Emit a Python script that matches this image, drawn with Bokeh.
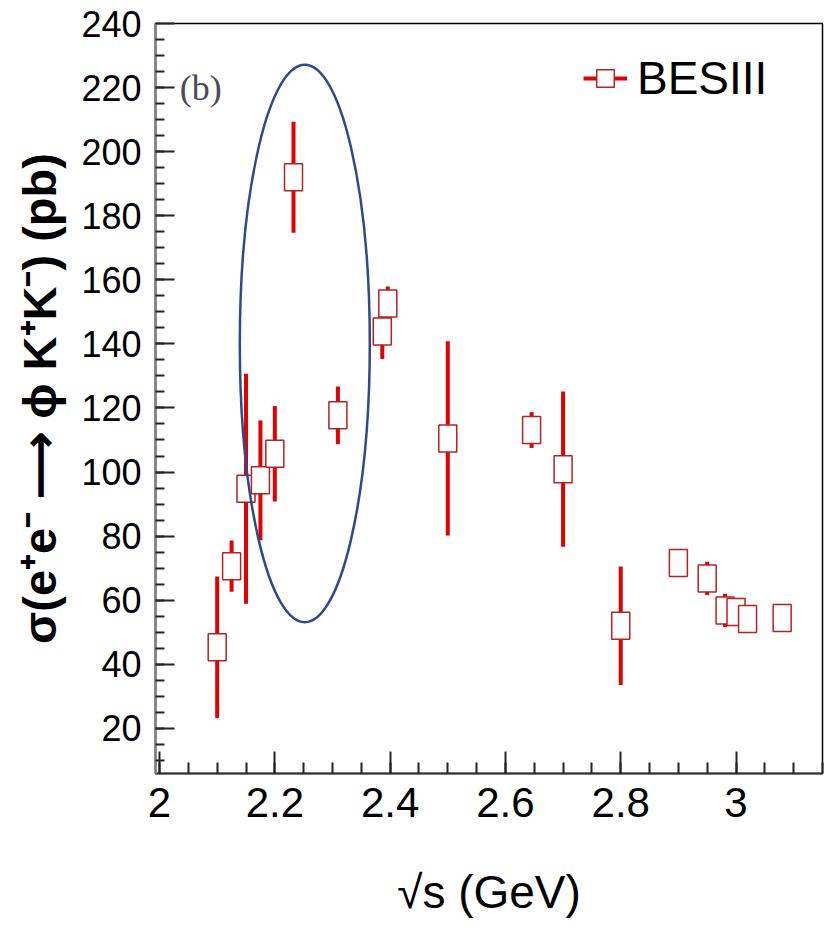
import numpy as np
from bokeh.plotting import figure
from bokeh.models import (ColumnDataSource, FixedTicker, Legend, LegendItem,
                          Label, Range1d)
from bokeh.embed import file_html
from bokeh.resources import INLINE

# ---- data ----
energy = [2.1000, 2.1250, 2.1500, 2.1750, 2.2000, 2.2324, 2.3094, 2.3864,
          2.3960, 2.5000, 2.6454, 2.7000, 2.8000, 2.9000, 2.9500, 2.9810,
          3.0000, 3.0200, 3.0800]
xsec = [45.3, 70.6, 94.8, 97.4, 105.7, 192.0, 117.7, 143.9,
        152.6, 110.5, 113.1, 100.9, 52.0, 71.6, 66.8, 56.8,
        56.3, 54.1, 54.4]
xsec_err = [22.1, 8.0, 35.9, 18.7, 14.9, 17.3, 9.0, 8.6,
            5.3, 30.3, 5.6, 24.2, 18.5, 2.5, 5.2, 5.2,
            3.5, 3.0, 3.0]

x_ticks = [2.0, 2.2, 2.4, 2.6, 2.8, 3.0]
x_tick_labels = ["2", "2.2", "2.4", "2.6", "2.8", "3"]
y_ticks = [20, 40, 60, 80, 100, 120, 140, 160, 180, 200, 220, 240]
y_tick_labels = ["20", "40", "60", "80", "100", "120", "140", "160",
                 "180", "200", "220", "240"]

series_label = "BESIII"
panel_tag = "(b)"
x_title = "\u221as (GeV)"
y_title = "\u03c3(e\u207ae\u207b \u27f6 \u03d5 K\u207aK\u207b) (pb)"

# highlighted region (ellipse) in data coordinates
highlight_x = [2.252]
highlight_y = [140.1]
highlight_w = [0.2255]
highlight_h = [174.0]

# ---- styles ----
RED = "#e30000"
BOX = "#b42222"
SANS = "Liberation Sans"

lo = [v - e for v, e in zip(xsec, xsec_err)]
hi = [v + e for v, e in zip(xsec, xsec_err)]
src = ColumnDataSource(dict(x=energy, y=xsec, lo=lo, hi=hi))

p = figure(width=828, height=931, x_range=Range1d(1.993, 3.15),
           y_range=Range1d(5.9, 240), output_backend="svg",
           toolbar_location=None, min_border_left=155, min_border_right=6,
           min_border_top=23, min_border_bottom=158)
p.grid.visible = False
p.background_fill_color = "white"
p.border_fill_color = "white"
p.outline_line_color = "black"
p.outline_line_width = 1.5

# square marker kept under the boxes (hidden there); it supplies the legend box
marks = p.scatter(x="x", y="y", source=src, marker="square", size=16,
                  fill_color="white", line_color=BOX, line_width=1.5)
bars = p.segment(x0="x", y0="lo", x1="x", y1="hi", source=src,
                 line_color=RED, line_width=4)
boxes = p.rect(x="x", y="y", width=18, height=27, width_units="screen",
               height_units="screen", source=src, fill_color="white",
               line_color=BOX, line_width=1.5)

p.ellipse(x=highlight_x, y=highlight_y, width=highlight_w, height=highlight_h,
          fill_color=None, line_color="#2e4a8b", line_width=2.5)

# x axis
xa = p.xaxis[0]
x_minor = [round(2.0 + 0.05 * i, 2) for i in range(0, 24)]
xa.ticker = FixedTicker(ticks=x_ticks, minor_ticks=x_minor)
xa.major_label_overrides = dict(zip(x_ticks, x_tick_labels))
xa.major_tick_in = 22
xa.major_tick_out = 0
xa.minor_tick_in = 11
xa.minor_tick_out = 0
xa.major_tick_line_width = 2
xa.minor_tick_line_width = 2
xa.major_tick_line_color = "#222222"
xa.minor_tick_line_color = "#222222"
xa.axis_line_color = "#333333"
xa.axis_line_width = 2
xa.major_label_standoff = 14
xa.major_label_text_font = SANS
xa.major_label_text_font_size = "42px"
xa.major_label_text_color = "black"
xa.axis_label = x_title
xa.axis_label_text_font = SANS
xa.axis_label_text_font_style = "normal"
xa.axis_label_text_font_size = "46px"
xa.axis_label_text_color = "black"
xa.axis_label_standoff = 46

# y axis
ya = p.yaxis[0]
y_minor = list(range(10, 240, 5))
ya.ticker = FixedTicker(ticks=y_ticks, minor_ticks=y_minor)
ya.major_label_overrides = dict(zip(y_ticks, y_tick_labels))
ya.major_tick_in = 19
ya.major_tick_out = 0
ya.minor_tick_in = 9
ya.minor_tick_out = 0
ya.major_tick_line_width = 2
ya.minor_tick_line_width = 2
ya.major_tick_line_color = "#222222"
ya.minor_tick_line_color = "#222222"
ya.axis_line_color = "#888888"
ya.axis_line_width = 3
ya.major_label_standoff = 14
ya.major_label_text_font = SANS
ya.major_label_text_font_size = "36px"
ya.major_label_text_color = "black"
ya.axis_label = y_title
ya.axis_label_text_font = SANS
ya.axis_label_text_font_style = "bold"
ya.axis_label_text_font_size = "47px"
ya.axis_label_text_color = "black"
ya.axis_label_standoff = 12

# panel tag
p.add_layout(Label(x=2.035, y=220, text=panel_tag, text_font="Liberation Serif",
                   text_font_size="36px", text_color="#4a4a58",
                   text_baseline="middle", text_align="left"))

legend = Legend(items=[LegendItem(label=series_label,
                                  renderers=[bars, marks])],
                location=(428, 668), border_line_color=None,
                background_fill_alpha=0, glyph_width=44, glyph_height=50,
                label_standoff=10, padding=0, margin=0,
                label_text_font=SANS, label_text_font_size="46px",
                label_text_color="black")
p.add_layout(legend)

open("out.html", "w").write(file_html(p, INLINE))
